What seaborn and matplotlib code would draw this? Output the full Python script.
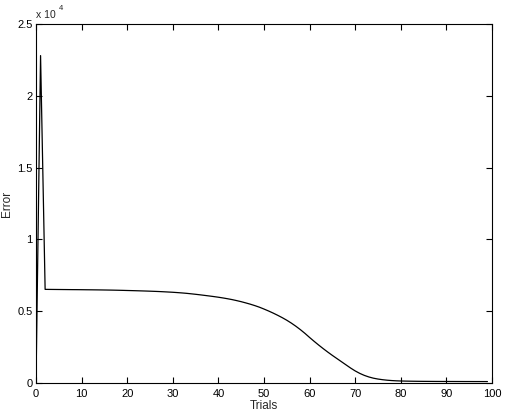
import numpy as np
import pandas as pd
import matplotlib
matplotlib.use("Agg")
import matplotlib.pyplot as plt
import seaborn as sns

# Data
trials = list(range(100))
error = [
    0, 22800, 6520, 6517, 6514, 6511, 6508, 6505, 6502, 6500,
    6497, 6493, 6490, 6486, 6482, 6477, 6472, 6466, 6459, 6451,
    6442, 6434, 6425, 6415, 6405, 6394, 6382, 6369, 6353, 6336,
    6318, 6296, 6272, 6245, 6212, 6177, 6140, 6100, 6060, 6018,
    5973, 5923, 5868, 5808, 5738, 5663, 5578, 5488, 5388, 5278,
    5150, 5015, 4870, 4715, 4550, 4370, 4170, 3950, 3710, 3450,
    3170, 2900, 2640, 2390, 2150, 1920, 1700, 1480, 1260, 1040,
    840, 670, 530, 420, 335, 275, 230, 195, 170, 152,
    140, 132, 126, 121, 117, 114, 112, 110, 108, 107,
    106, 105, 104, 103, 102, 102, 101, 101, 100, 100,
]
x_ticks = list(range(0, 101, 10))
y_ticks = [0, 5000, 10000, 15000, 20000, 25000]
y_tick_labels = ["0", "0.5", "1", "1.5", "2", "2.5"]

df = pd.DataFrame({"Trials": trials, "Error": error})

sns.set_style("ticks")
plt.rcParams["font.family"] = ["Liberation Sans", "DejaVu Sans"]

fig = plt.figure(figsize=(5.07, 4.15), dpi=100)
ax = fig.add_axes([36 / 507, 32 / 415, 456 / 507, 359 / 415])

sns.lineplot(data=df, x="Trials", y="Error", ax=ax, color="black", linewidth=0.9)

ax.set_xlim(0, 100)
ax.set_ylim(0, 25000)
ax.set_xticks(x_ticks)
ax.set_xticklabels([str(t) for t in x_ticks])
ax.set_yticks(y_ticks)
ax.set_yticklabels(y_tick_labels)

for s in ax.spines.values():
    s.set_visible(True)
    s.set_color("black")
    s.set_linewidth(0.8)

ax.tick_params(direction="in", length=4, width=0.8, top=True, right=True,
               labelsize=8, colors="black")
ax.tick_params(axis="x", pad=4.5)
ax.tick_params(axis="y", pad=2.5)
ax.set_xlabel("Trials", fontsize=8.5, labelpad=0.5)
ax.set_ylabel("Error", fontsize=8.5, labelpad=3)

ax.text(0.0, 1.012, "x 10", transform=ax.transAxes, fontsize=7.5,
        ha="left", va="bottom")
ax.text(0.05, 1.033, "4", transform=ax.transAxes, fontsize=5.5,
        ha="left", va="bottom")

fig.savefig("out.png", dpi=100)
